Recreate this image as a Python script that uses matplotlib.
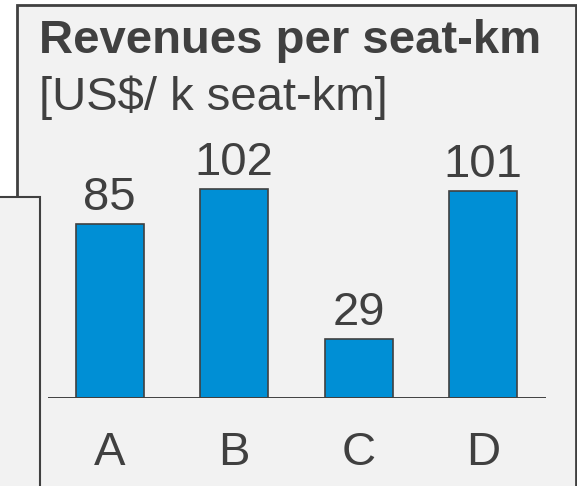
"""Revenues per seat-km bar panel."""

import matplotlib

matplotlib.use("Agg")
import matplotlib.pyplot as plt  # noqa: E402
from matplotlib.patches import Rectangle  # noqa: E402

categories = ["A", "B", "C", "D"]
revenues = [85, 102, 29, 101]
title = "Revenues per seat-km"
subtitle = "[US$/ k seat-km]"

W, H = 577, 486
TEXT = "#404040"
PANEL = "#f2f2f2"
BAR = "#008fd5"

plt.rcParams["font.family"] = ["Liberation Sans", "DejaVu Sans"]

fig = plt.figure(figsize=(W / 100, H / 100), dpi=100, facecolor="white")


def box(x0, y0, x1, y1):
    # pixel coords measured from top-left
    return (x0 / W, 1 - y1 / H), (x1 - x0) / W, (y1 - y0) / H


# main panel, then the neighbouring panel that overlaps it on the left
(xy, w, h) = box(17, 5, 576, 520)
fig.patches.append(Rectangle(xy, w, h, transform=fig.transFigure,
                             facecolor=PANEL, edgecolor=TEXT, lw=2, zorder=0))
(xy, w, h) = box(-20, 197, 40, 520)
fig.patches.append(Rectangle(xy, w, h, transform=fig.transFigure,
                             facecolor=PANEL, edgecolor=TEXT, lw=1.5, zorder=1))

fig.text(39 / W, 1 - 53 / H, title, fontsize=34, fontweight="bold",
         color=TEXT, va="baseline", ha="left", zorder=6)
fig.text(39 / W, 1 - 110 / H, subtitle, fontsize=34,
         color=TEXT, va="baseline", ha="left", zorder=6)

# bar axes: x from 47.5 to 545.5 px, baseline at y=398 px
ymax = 130
ax = fig.add_axes([47.5 / W, (H - 398) / H, 498 / W, ymax * 2.05 / H])
ax.set_zorder(5)
ax.set_xlim(-0.5, 3.5)
ax.set_ylim(0, ymax)
ax.set_axis_off()

xs = range(len(categories))
ax.bar(xs, revenues, width=0.55, color=BAR, edgecolor=TEXT, linewidth=1.2,
       zorder=2)
ax.axhline(0, color=TEXT, lw=1.4, zorder=3)

for x, v, c in zip(xs, revenues, categories):
    ax.annotate(str(v), (x, v), xytext=(0, 14), textcoords="offset pixels",
                ha="center", va="baseline", fontsize=34, color=TEXT)
    ax.annotate(c, (x, 0), xytext=(0, -67), textcoords="offset pixels",
                ha="center", va="baseline", fontsize=34, color=TEXT,
                annotation_clip=False)

fig.savefig("out.png", dpi=100)
